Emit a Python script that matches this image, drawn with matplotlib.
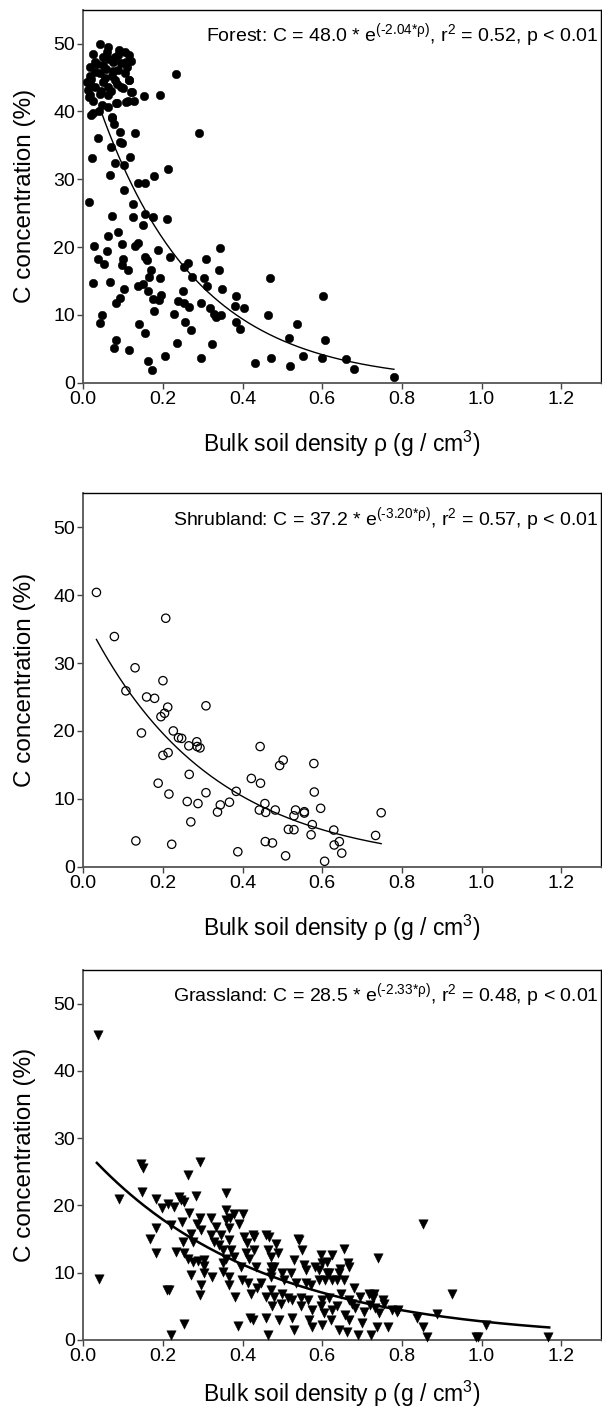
import numpy as np
import matplotlib
matplotlib.use("Agg")
import matplotlib.pyplot as plt

plt.rcParams['font.family'] = ['Liberation Sans', 'DejaVu Sans']
plt.rcParams['mathtext.fontset'] = 'custom'
plt.rcParams['mathtext.rm'] = 'Liberation Sans'
plt.rcParams['mathtext.it'] = 'Liberation Sans:italic'
plt.rcParams['mathtext.bf'] = 'Liberation Sans:bold'

# ---------------- data ----------------
forest = [
    (0.041, 50.0), (0.062, 49.5), (0.025, 48.5), (0.104, 48.8), (0.116, 48.3), (0.087, 48.3),
    (0.050, 48.0), (0.017, 46.6), (0.029, 47.3), (0.075, 47.3), (0.095, 47.1), (0.108, 47.3),
    (0.058, 46.3), (0.087, 46.1), (0.017, 45.3), (0.041, 45.6), (0.071, 45.3), (0.104, 45.6),
    (0.017, 44.1), (0.050, 44.3), (0.079, 44.6), (0.116, 44.6), (0.029, 43.6), (0.062, 43.6),
    (0.095, 43.6), (0.041, 42.6), (0.017, 42.4), (0.025, 41.6), (0.062, 42.4), (0.120, 42.8),
    (0.112, 41.6), (0.127, 41.6), (0.083, 41.3), (0.108, 41.4), (0.153, 42.3), (0.192, 42.4),
    (0.046, 40.9), (0.025, 39.7), (0.039, 40.0), (0.062, 40.7), (0.072, 39.2), (0.077, 38.2),
    (0.035, 47.0), (0.055, 45.0), (0.085, 44.0), (0.065, 47.8), (0.090, 49.0), (0.110, 46.5),
    (0.045, 43.0), (0.070, 43.0), (0.100, 43.5), (0.020, 44.8), (0.030, 45.8), (0.060, 48.7),
    (0.080, 48.0), (0.120, 47.5), (0.050, 46.8), (0.075, 45.9), (0.010, 44.4), (0.014, 42.1),
    (0.019, 39.5), (0.012, 43.2), (0.122, 42.8), (0.115, 44.6), (0.084, 41.2), (0.071, 39.1),
    (0.233, 45.5), (0.290, 36.8), (0.130, 36.8), (0.014, 26.6), (0.023, 33.1), (0.038, 36.1),
    (0.069, 34.8), (0.066, 30.6), (0.079, 32.4), (0.091, 37.0), (0.093, 35.5), (0.098, 35.4),
    (0.103, 32.1), (0.117, 33.3), (0.103, 28.4), (0.137, 29.5), (0.154, 29.4), (0.178, 30.5),
    (0.213, 31.5), (0.124, 26.4), (0.125, 24.4), (0.071, 24.6), (0.154, 24.9), (0.175, 24.5),
    (0.211, 24.1), (0.149, 23.3), (0.026, 20.1), (0.036, 18.3), (0.052, 17.5), (0.060, 19.5),
    (0.063, 21.7), (0.088, 22.3), (0.098, 20.4), (0.100, 18.3), (0.096, 17.4), (0.111, 16.7),
    (0.131, 20.1), (0.137, 20.6), (0.156, 18.5), (0.160, 18.1), (0.188, 19.6), (0.218, 18.5),
    (0.170, 16.7), (0.165, 15.6), (0.192, 15.5), (0.137, 14.3), (0.149, 14.6), (0.163, 13.6),
    (0.024, 14.7), (0.066, 14.8), (0.103, 13.9), (0.175, 12.3), (0.194, 13.0), (0.190, 12.2),
    (0.091, 12.5), (0.082, 11.7), (0.048, 10.0), (0.043, 8.75), (0.178, 10.6), (0.141, 8.65),
    (0.154, 7.4), (0.082, 6.3), (0.077, 5.1), (0.115, 4.9), (0.163, 3.2), (0.173, 1.9),
    (0.204, 3.9), (0.236, 5.9), (0.228, 10.2), (0.238, 12.0), (0.250, 13.6), (0.254, 17.1),
    (0.264, 17.7), (0.254, 11.7), (0.266, 11.2), (0.255, 9.0), (0.271, 7.8), (0.273, 15.6),
    (0.295, 11.7), (0.295, 3.6), (0.308, 18.3), (0.303, 15.5), (0.310, 14.3), (0.319, 11.0),
    (0.329, 10.2), (0.322, 5.65), (0.343, 19.8), (0.341, 16.7), (0.348, 13.9), (0.345, 10.0),
    (0.334, 9.7), (0.384, 12.8), (0.380, 11.3), (0.404, 11.1), (0.384, 9.0), (0.393, 7.9),
    (0.432, 2.85), (0.468, 15.4), (0.465, 10.0), (0.471, 3.6), (0.516, 6.6), (0.519, 2.5),
    (0.536, 8.65), (0.552, 4.0), (0.601, 12.8), (0.608, 6.3), (0.600, 3.7), (0.659, 3.5),
    (0.680, 2.0), (0.779, 0.9),
]

shrubland = [
    (0.033, 40.4), (0.078, 33.9), (0.207, 36.6), (0.130, 29.3), (0.200, 27.4), (0.107, 25.9),
    (0.159, 25.0), (0.179, 24.8), (0.212, 23.5), (0.308, 23.7), (0.204, 22.6), (0.195, 22.1),
    (0.146, 19.7), (0.226, 20.0), (0.239, 19.0), (0.247, 18.9), (0.285, 18.4), (0.265, 17.8),
    (0.286, 17.7), (0.293, 17.5), (0.213, 16.8), (0.200, 16.4), (0.444, 17.7), (0.502, 15.7),
    (0.493, 14.9), (0.579, 15.2), (0.266, 13.6), (0.422, 13.0), (0.445, 12.3), (0.188, 12.3),
    (0.384, 11.1), (0.580, 11.0), (0.215, 10.7), (0.308, 10.9), (0.261, 9.6), (0.288, 9.3),
    (0.367, 9.5), (0.344, 9.1), (0.456, 9.3), (0.596, 8.6), (0.442, 8.35), (0.458, 8.0),
    (0.482, 8.35), (0.337, 8.05), (0.533, 8.35), (0.555, 8.1), (0.555, 7.9), (0.529, 7.5),
    (0.748, 7.95), (0.270, 6.6), (0.575, 6.2), (0.629, 5.4), (0.515, 5.5), (0.529, 5.45),
    (0.572, 4.7), (0.734, 4.6), (0.132, 3.8), (0.222, 3.3), (0.457, 3.7), (0.475, 3.5),
    (0.643, 3.7), (0.630, 3.2), (0.388, 2.2), (0.649, 2.0), (0.508, 1.6), (0.606, 0.8),
]

grassland = [
    (0.036, 45.4), (0.040, 9.0), (0.211, 7.5), (0.216, 7.5), (0.221, 0.7), (0.254, 2.4),
    (0.463, 0.7), (0.853, 17.3), (0.740, 12.2), (0.927, 6.8), (0.863, 0.4), (0.986, 0.4),
    (0.992, 0.4), (1.168, 0.4), (1.010, 2.2), (0.887, 3.8), (0.853, 2.0), (0.837, 3.2),
    (0.790, 4.5), (0.776, 4.5), (0.752, 5.9), (0.764, 2.0), (0.729, 6.8), (0.738, 2.0),
    (0.722, 0.7), (0.690, 0.7), (0.661, 1.2), (0.642, 1.5), (0.680, 7.7), (0.654, 13.6),
    (0.665, 11.4), (0.644, 10.6), (0.625, 12.6), (0.598, 12.6), (0.613, 9.9), (0.425, 15.6),
    (0.540, 15.0),
    (0.090, 20.9), (0.144, 26.2), (0.150, 25.6), (0.148, 22.0), (0.183, 20.9), (0.198, 19.6),
    (0.212, 20.2), (0.229, 19.8), (0.240, 21.3), (0.246, 20.8), (0.254, 20.5), (0.265, 18.9),
    (0.248, 17.6), (0.183, 16.6), (0.167, 15.0), (0.183, 12.9), (0.219, 17.1), (0.232, 13.1),
    (0.250, 14.6), (0.263, 24.5), (0.293, 26.5), (0.282, 21.4), (0.292, 18.1), (0.285, 17.2),
    (0.296, 16.3), (0.271, 15.8), (0.275, 14.6), (0.254, 12.9), (0.263, 12.1), (0.275, 11.6),
    (0.288, 11.8), (0.303, 11.9), (0.303, 11.0), (0.304, 9.9), (0.271, 9.7), (0.296, 8.2),
    (0.294, 6.7), (0.323, 9.4), (0.321, 18.1), (0.333, 16.8), (0.321, 15.6), (0.346, 15.6),
    (0.358, 21.8), (0.358, 19.3), (0.358, 17.8), (0.369, 18.1), (0.379, 18.8), (0.400, 18.8),
    (0.392, 17.3), (0.365, 16.6), (0.367, 14.9), (0.342, 14.1), (0.329, 14.6), (0.350, 13.4),
    (0.371, 13.4), (0.358, 12.1), (0.379, 12.4), (0.352, 11.4), (0.350, 10.1), (0.365, 9.4),
    (0.367, 8.2), (0.382, 6.4), (0.388, 2.1), (0.396, 10.9), (0.398, 8.9), (0.403, 15.3),
    (0.411, 14.4), (0.408, 12.9), (0.417, 12.1), (0.414, 8.4), (0.421, 6.9), (0.429, 15.3),
    (0.428, 13.4), (0.433, 10.9), (0.418, 3.2), (0.427, 3.0), (0.436, 7.7), (0.446, 8.4),
    (0.458, 15.6), (0.463, 13.4), (0.458, 6.4), (0.458, 3.2), (0.471, 12.4), (0.471, 10.9),
    (0.471, 9.4), (0.471, 7.4),
    (0.542, 14.9), (0.484, 14.3), (0.467, 15.3), (0.550, 13.4), (0.529, 11.9), (0.488, 12.9),
    (0.554, 11.1), (0.558, 10.4), (0.583, 10.9), (0.600, 11.4), (0.613, 11.6), (0.667, 10.9),
    (0.642, 9.9), (0.617, 9.9), (0.592, 10.4), (0.521, 9.9), (0.500, 9.9), (0.479, 10.9),
    (0.471, 9.9), (0.504, 8.9), (0.533, 8.4), (0.558, 8.5), (0.571, 8.2), (0.592, 8.9),
    (0.608, 8.9), (0.625, 8.9), (0.638, 8.9), (0.654, 8.9), (0.717, 6.9), (0.727, 6.3),
    (0.787, 4.2), (0.667, 3.0), (0.658, 3.7), (0.700, 2.6), (0.625, 4.5), (0.638, 5.0),
    (0.646, 6.9), (0.617, 6.2), (0.600, 5.9), (0.596, 5.0), (0.604, 4.0), (0.575, 4.5),
    (0.563, 5.9), (0.546, 5.0), (0.546, 6.2), (0.525, 5.9), (0.513, 6.2), (0.500, 6.9),
    (0.496, 5.4), (0.479, 6.4), (0.475, 5.0), (0.525, 3.2), (0.492, 3.0), (0.567, 3.0),
    (0.575, 2.0), (0.600, 2.2), (0.529, 1.5), (0.621, 3.0), (0.675, 5.4), (0.683, 4.7),
    (0.667, 5.9), (0.696, 6.4), (0.704, 4.2), (0.721, 5.2), (0.733, 4.7), (0.754, 5.4),
    (0.742, 4.0),
]

# fitted curves: C = a * exp(-b * rho), drawn over the observed range
fit_a = [48.0, 37.2, 28.5]
fit_b = [4.08, 3.20, 2.33]
fit_range = [(0.045, 0.78), (0.033, 0.748), (0.034, 1.17)]

labels = [
    r"Forest: C = 48.0 * e$^{\text{(-2.04*ρ)}}$, r$^{\text{2}}$ = 0.52, p < 0.01",
    r"Shrubland: C = 37.2 * e$^{\text{(-3.20*ρ)}}$, r$^{\text{2}}$ = 0.57, p < 0.01",
    r"Grassland: C = 28.5 * e$^{\text{(-2.33*ρ)}}$, r$^{\text{2}}$ = 0.48, p < 0.01",
]

xticks = [0.0, 0.2, 0.4, 0.6, 0.8, 1.0, 1.2]
yticks = [0, 10, 20, 30, 40, 50]

# ---------------- figure ----------------
W, H = 602, 1411
fig = plt.figure(figsize=(W / 100, H / 100), dpi=100)

left_px, right_px = 83.3, 601.0
panels_px = [(9.7, 382.8), (493.3, 866.7), (970.0, 1340.0)]
xlabel_pad = [15, 15, 10]

series = [forest, shrubland, grassland]
styles = [
    dict(marker='o', s=38, facecolors='black', edgecolors='black', linewidths=0.3),
    dict(marker='o', s=36, facecolors='none', edgecolors='black', linewidths=0.9),
    dict(marker='v', s=46, facecolors='black', edgecolors='black', linewidths=0.3),
]
line_w = [1.0, 1.0, 1.8]

for i, (top, bot) in enumerate(panels_px):
    ax = fig.add_axes([left_px / W, 1 - bot / H, (right_px - left_px) / W, (bot - top) / H])
    xs, ys = zip(*series[i])
    ax.scatter(xs, ys, zorder=3, clip_on=False, **styles[i])
    xf = np.linspace(fit_range[i][0], fit_range[i][1], 200)
    ax.plot(xf, fit_a[i] * np.exp(-fit_b[i] * xf), color='black', lw=line_w[i], zorder=4)

    ax.set_xlim(0, 1.3)
    ax.set_ylim(0, 55)
    ax.set_xticks(xticks)
    ax.set_xticklabels([f"{t:.1f}" for t in xticks])
    ax.set_yticks(yticks)
    ax.tick_params(direction='out', length=4, width=1.0, labelsize=14, pad=2, color='#444444')
    for side in ['left', 'bottom']:
        ax.spines[side].set_color('#555555')
        ax.spines[side].set_linewidth(1.3)
    for side in ['top', 'right']:
        ax.spines[side].set_color('black')
        ax.spines[side].set_linewidth(1.0)

    ax.set_xlabel(r"Bulk soil density ρ (g / cm$^{\text{3}}$)", fontsize=16.5,
                  labelpad=xlabel_pad[i])
    ax.set_ylabel("C concentration (%)", fontsize=17.5, labelpad=12)
    ax.text(0.995, 0.916, labels[i], transform=ax.transAxes, ha='right', va='baseline',
            fontsize=14)

fig.savefig("out.png", dpi=100)
